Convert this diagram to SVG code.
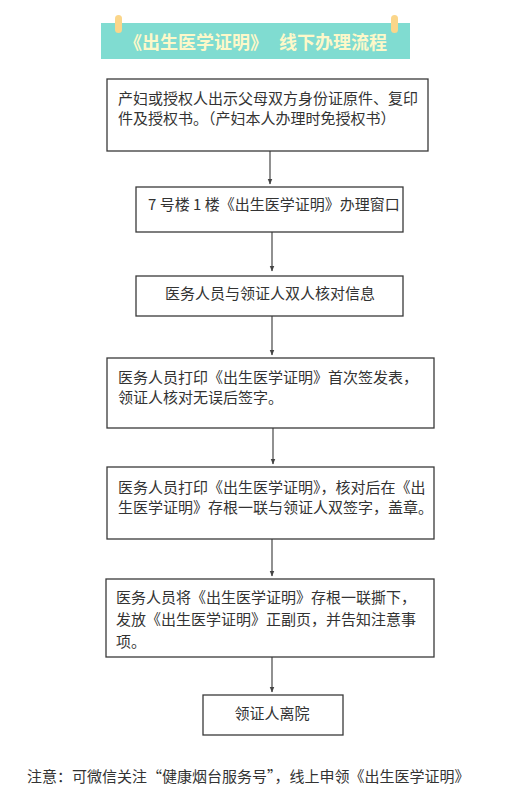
<svg xmlns="http://www.w3.org/2000/svg" width="511" height="809" viewBox="0 0 511 809">
<style>
.box{fill:#fff;stroke:#3a3a3a;stroke-width:1.3}
.t{font-family:"Noto Sans CJK SC","Noto Sans",sans-serif;font-size:15px;fill:#333}
.title{font-family:"Noto Sans CJK SC","Noto Sans",sans-serif;font-size:18px;font-weight:bold;fill:#fdf8c9}
.conn{stroke:#555;stroke-width:1.3;fill:none;marker-end:url(#ah)}
.peg{fill:#fbd68a}
</style>
<defs>
<marker id="ah" viewBox="0 0 10 10" refX="9" refY="5" markerWidth="6" markerHeight="6" orient="auto" markerUnits="userSpaceOnUse">
<path d="M0,1 L10,5 L0,9 Z" fill="#444"/>
</marker>
</defs>
<rect width="511" height="809" fill="#fff"/>
<g id="title">
<rect x="101" y="23" width="309" height="36" fill="#80dcd1"/>
<rect class="peg" x="115" y="15" width="7" height="18" rx="3.5"/>
<rect class="peg" x="391" y="15" width="7" height="18" rx="3.5"/>
<text class="title" y="49"><tspan x="124">《出生医学证明》</tspan><tspan x="279">线下办理流程</tspan></text>
</g>
<g id="connectors">
<line class="conn" x1="270" y1="151" x2="270" y2="184"/>
<line class="conn" x1="272" y1="232" x2="272" y2="271"/>
<line class="conn" x1="272" y1="316" x2="272" y2="355"/>
<line class="conn" x1="273" y1="428" x2="273" y2="464"/>
<line class="conn" x1="272" y1="539" x2="272" y2="576"/>
<line class="conn" x1="272" y1="657" x2="272" y2="692"/>
</g>
<g id="n1">
<rect class="box" x="107" y="79" width="321" height="72"/>
<text class="t" x="118" y="104">产妇或授权人出示父母双方身份证原件、复印</text>
<text class="t" x="118" y="124">件及授权书。（产妇本人办理时免授权书）</text>
</g>
<g id="n2">
<rect class="box" x="136" y="187" width="267" height="45"/>
<text class="t" x="148" y="210">7 号楼 1 楼《出生医学证明》办理窗口</text>
</g>
<g id="n3">
<rect class="box" x="136" y="276" width="267" height="40"/>
<text class="t" x="270" y="299" text-anchor="middle">医务人员与领证人双人核对信息</text>
</g>
<g id="n4">
<rect class="box" x="107" y="358" width="327" height="70"/>
<text class="t" x="118" y="383">医务人员打印《出生医学证明》首次签发表，</text>
<text class="t" x="118" y="403">领证人核对无误后签字。</text>
</g>
<g id="n5">
<rect class="box" x="107" y="467" width="327" height="72"/>
<text class="t" x="118" y="493">医务人员打印《出生医学证明》，核对后在《出</text>
<text class="t" x="118" y="513">生医学证明》存根一联与领证人双签字，盖章。</text>
</g>
<g id="n6">
<rect class="box" x="106" y="579" width="328" height="78"/>
<text class="t" x="116" y="603">医务人员将《出生医学证明》存根一联撕下，</text>
<text class="t" x="116" y="625">发放《出生医学证明》正副页，并告知注意事</text>
<text class="t" x="116" y="647">项。</text>
</g>
<g id="n7">
<rect class="box" x="203" y="695" width="140" height="40"/>
<text class="t" x="272" y="719" text-anchor="middle">领证人离院</text>
</g>
<g id="note">
<text class="t" x="27" y="782">注意：可微信关注“健康烟台服务号”，线上申领《出生医学证明》</text>
</g>
</svg>
